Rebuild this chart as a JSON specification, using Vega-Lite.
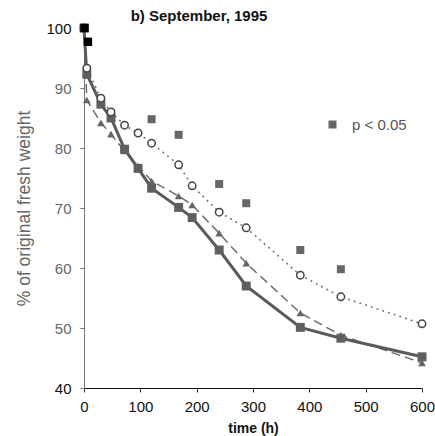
{
  "$schema": "https://vega.github.io/schema/vega-lite/v6.json",
  "width": 338,
  "height": 360,
  "autosize": {"type": "none"},
  "padding": {"left": 84, "top": 28, "right": 13, "bottom": 48},
  "background": "white",
  "title": {
    "text": "b) September, 1995",
    "anchor": "middle",
    "dx": -54,
    "offset": -3,
    "font": "Liberation Sans",
    "fontSize": 15,
    "fontWeight": "bold",
    "color": "#111"
  },
  "config": {
    "view": {"stroke": null},
    "font": "Liberation Sans"
  },
  "data": {
    "values": [
      {"t": 0, "v": 100, "s": "sq"}, {"t": 5, "v": 92.3, "s": "sq"}, {"t": 30, "v": 87.3, "s": "sq"}, {"t": 48, "v": 85, "s": "sq"}, {"t": 72, "v": 79.8, "s": "sq"}, {"t": 96, "v": 76.6, "s": "sq"}, {"t": 120, "v": 73.3, "s": "sq"}, {"t": 168, "v": 70.1, "s": "sq"}, {"t": 192, "v": 68.4, "s": "sq"}, {"t": 240, "v": 63, "s": "sq"}, {"t": 288, "v": 57, "s": "sq"}, {"t": 384, "v": 50.1, "s": "sq"}, {"t": 456, "v": 48.3, "s": "sq"}, {"t": 600, "v": 45.2, "s": "sq"},
      {"t": 0, "v": 100, "s": "tri"}, {"t": 5, "v": 88, "s": "tri"}, {"t": 30, "v": 84.2, "s": "tri"}, {"t": 48, "v": 82.3, "s": "tri"}, {"t": 72, "v": 79.5, "s": "tri"}, {"t": 96, "v": 77, "s": "tri"}, {"t": 120, "v": 74.5, "s": "tri"}, {"t": 168, "v": 72, "s": "tri"}, {"t": 192, "v": 70.5, "s": "tri"}, {"t": 240, "v": 65.8, "s": "tri"}, {"t": 288, "v": 60.8, "s": "tri"}, {"t": 384, "v": 52.5, "s": "tri"}, {"t": 456, "v": 48.8, "s": "tri"}, {"t": 600, "v": 44.2, "s": "tri"},
      {"t": 0, "v": 100, "s": "circ"}, {"t": 5, "v": 93.3, "s": "circ"}, {"t": 30, "v": 88.3, "s": "circ"}, {"t": 48, "v": 86, "s": "circ"}, {"t": 72, "v": 83.8, "s": "circ"}, {"t": 96, "v": 82.5, "s": "circ"}, {"t": 120, "v": 80.8, "s": "circ"}, {"t": 168, "v": 77.2, "s": "circ"}, {"t": 192, "v": 73.7, "s": "circ"}, {"t": 240, "v": 69.3, "s": "circ"}, {"t": 288, "v": 66.7, "s": "circ"}, {"t": 384, "v": 58.8, "s": "circ"}, {"t": 456, "v": 55.2, "s": "circ"}, {"t": 600, "v": 50.7, "s": "circ"},
      {"t": 120, "v": 84.8, "s": "p < 0.05"}, {"t": 168, "v": 82.2, "s": "p < 0.05"}, {"t": 240, "v": 74, "s": "p < 0.05"}, {"t": 288, "v": 70.8, "s": "p < 0.05"}, {"t": 384, "v": 63, "s": "p < 0.05"}, {"t": 456, "v": 59.8, "s": "p < 0.05"},
      {"t": 1, "v": 100, "s": "blk"}, {"t": 7, "v": 97.7, "s": "blk"}
    ]
  },
  "encoding": {
    "x": {
      "field": "t", "type": "quantitative",
      "scale": {"domain": [0, 600], "nice": false, "zero": false},
      "axis": {
        "values": [0, 100, 200, 300, 400, 500, 600],
        "title": "time (h)",
        "titleFont": "Liberation Sans", "titleFontSize": 14, "titleFontWeight": "bold", "titleColor": "#111", "titlePadding": 7,
        "labelFont": "Liberation Sans", "labelFontSize": 15, "labelColor": "#111", "labelPadding": 7,
        "grid": false, "domainColor": "#111", "domainWidth": 1.2, "tickColor": "#333", "tickSize": 4, "labelFlush": false
      }
    },
    "y": {
      "field": "v", "type": "quantitative",
      "scale": {"domain": [40, 100], "nice": false, "zero": false},
      "axis": {
        "values": [40, 50, 60, 70, 80, 90, 100],
        "title": "% of original fresh weight",
        "titleFont": "Liberation Sans", "titleFontSize": 17.5, "titleFontWeight": "normal", "titleColor": "#666", "titlePadding": 12,
        "labelFont": "Liberation Sans", "labelFontSize": 15,
        "labelColor": {"condition": {"test": "datum.value == 100 || datum.value == 40", "value": "#111"}, "value": "#666"},
        "labelPadding": 9,
        "grid": false, "domainColor": "#777", "tickColor": "#777", "tickSize": 4
      }
    }
  },
  "layer": [
    {
      "transform": [{"filter": "datum.s == 'tri'"}],
      "mark": {"type": "line", "color": "#666", "strokeWidth": 1.4, "strokeDash": [9, 5]}
    },
    {
      "transform": [{"filter": "datum.s == 'circ'"}],
      "mark": {"type": "line", "color": "#777", "strokeWidth": 1.6, "strokeDash": [2, 4]}
    },
    {
      "transform": [{"filter": "datum.s == 'sq'"}],
      "mark": {"type": "line", "color": "#5a5a5a", "strokeWidth": 3}
    },
    {
      "transform": [{"filter": "datum.s == 'tri'"}],
      "mark": {"type": "point", "shape": "triangle-up", "filled": true, "color": "#666", "size": 60, "opacity": 1}
    },
    {
      "transform": [{"filter": "datum.s == 'sq'"}],
      "mark": {"type": "point", "shape": "square", "filled": true, "color": "#5f5f5f", "size": 80, "opacity": 1}
    },
    {
      "transform": [{"filter": "datum.s == 'circ'"}],
      "mark": {"type": "point", "shape": "circle", "filled": false, "fill": "white", "fillOpacity": 1, "stroke": "#444", "strokeWidth": 1.5, "size": 55, "opacity": 1}
    },
    {
      "transform": [{"filter": "datum.s == 'p < 0.05'"}],
      "mark": {"type": "point", "shape": "square", "filled": true, "size": 64, "opacity": 1},
      "encoding": {
        "color": {
          "field": "s", "type": "nominal",
          "scale": {"domain": ["p < 0.05"], "range": ["#666"]},
          "legend": {
            "title": null, "orient": "none", "legendX": 241, "legendY": 89,
            "symbolType": "square", "symbolSize": 64, "symbolFillColor": "#666", "symbolStrokeWidth": 0,
            "labelFont": "Liberation Sans", "labelFontSize": 15, "labelColor": "#555", "labelOffset": 12, "padding": 0
          }
        }
      }
    },
    {
      "transform": [{"filter": "datum.s == 'blk'"}],
      "mark": {"type": "point", "shape": "square", "filled": true, "color": "#000", "size": 70, "opacity": 1}
    }
  ]
}
